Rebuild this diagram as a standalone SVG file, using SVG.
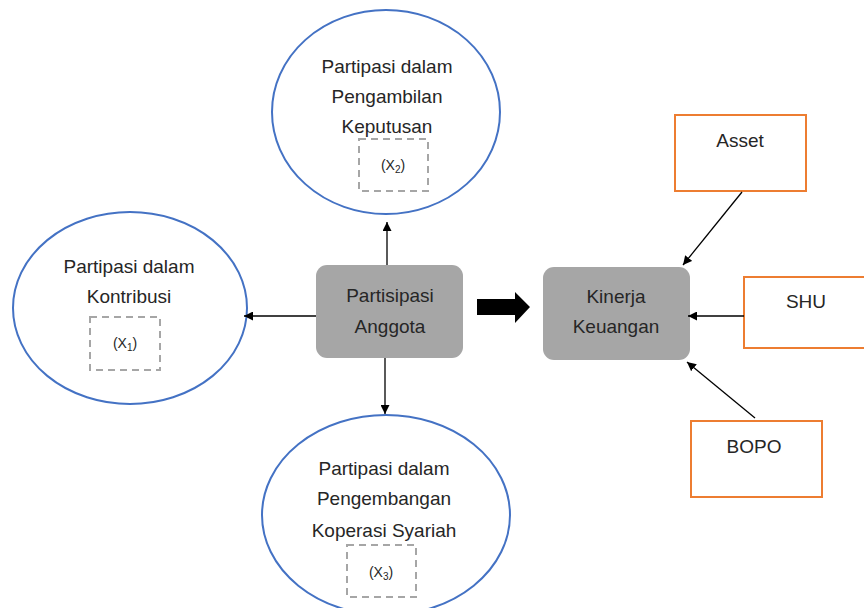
<svg xmlns="http://www.w3.org/2000/svg" width="864" height="608" viewBox="0 0 864 608">
<defs>
<style>
.ell{fill:#fff;stroke:#4472c4;stroke-width:2}
.dash{fill:none;stroke:#a6a6a6;stroke-width:2;stroke-dasharray:7 5}
.gbox{fill:#a6a6a6;stroke:none}
.obox{fill:#fff;stroke:#ed7d31;stroke-width:2}
.t{font-family:"Liberation Sans","Noto Sans",Arial,sans-serif;font-size:19px;fill:#262626;text-anchor:middle}
.s{font-family:"Liberation Sans","Noto Sans",Arial,sans-serif;font-size:14px;fill:#262626;text-anchor:middle}
.conn{stroke:#000;stroke-width:1.3;fill:none;marker-end:url(#ah)}
</style>
<marker id="ah" viewBox="0 0 10 10" refX="10" refY="5" markerWidth="9" markerHeight="9" markerUnits="userSpaceOnUse" orient="auto">
<path d="M0,0 L10,5 L0,10 z" fill="#000"/>
</marker>
</defs>
<rect width="864" height="608" fill="#fff"/>

<g id="x2-node">
<ellipse class="ell" cx="386" cy="112" rx="114" ry="102"/>
<text class="t" x="387" y="73">Partipasi dalam</text>
<text class="t" x="387" y="103">Pengambilan</text>
<text class="t" x="387" y="133">Keputusan</text>
<rect class="dash" x="359" y="139" width="69" height="52"/>
<text class="s" x="393" y="170">(X<tspan font-size="10" dy="3">2</tspan><tspan dy="-3">)</tspan></text>
</g>

<g id="x1-node">
<ellipse class="ell" cx="130" cy="308" rx="117" ry="96"/>
<text class="t" x="129" y="273">Partipasi dalam</text>
<text class="t" x="129" y="303">Kontribusi</text>
<rect class="dash" x="90" y="317" width="70" height="53"/>
<text class="s" x="125" y="348">(X<tspan font-size="10" dy="3">1</tspan><tspan dy="-3">)</tspan></text>
</g>

<g id="x3-node">
<ellipse class="ell" cx="386" cy="515" rx="124" ry="100"/>
<text class="t" x="384" y="475">Partipasi dalam</text>
<text class="t" x="384" y="505">Pengembangan</text>
<text class="t" x="384" y="537">Koperasi Syariah</text>
<rect class="dash" x="347" y="545" width="69" height="52"/>
<text class="s" x="381" y="577">(X<tspan font-size="10" dy="3">3</tspan><tspan dy="-3">)</tspan></text>
</g>

<g id="partisipasi-anggota">
<rect class="gbox" x="316" y="265" width="147" height="93" rx="11"/>
<text class="t" x="390" y="302">Partisipasi</text>
<text class="t" x="390" y="333">Anggota</text>
</g>

<g id="kinerja-keuangan">
<rect class="gbox" x="543" y="267" width="147" height="93" rx="11"/>
<text class="t" x="616" y="303">Kinerja</text>
<text class="t" x="616" y="333">Keuangan</text>
</g>

<g id="asset">
<rect class="obox" x="675" y="115" width="131" height="76"/>
<text class="t" x="740" y="147">Asset</text>
</g>

<g id="shu">
<rect class="obox" x="744" y="277" width="130" height="71"/>
<text class="t" x="806" y="308">SHU</text>
</g>

<g id="bopo">
<rect class="obox" x="691" y="421" width="131" height="76"/>
<text class="t" x="754" y="453">BOPO</text>
</g>

<g id="connectors">
<line class="conn" x1="387" y1="265" x2="387" y2="222"/>
<line class="conn" x1="316" y1="316" x2="244" y2="316"/>
<line class="conn" x1="385" y1="358" x2="385" y2="414"/>
<line class="conn" x1="742" y1="192" x2="683" y2="265"/>
<line class="conn" x1="744" y1="316" x2="688" y2="316"/>
<line class="conn" x1="755" y1="418" x2="687" y2="362"/>
<path d="M477,299 L515,299 L515,292 L530,307 L515,323 L515,315 L477,315 z" fill="#000"/>
</g>
</svg>
